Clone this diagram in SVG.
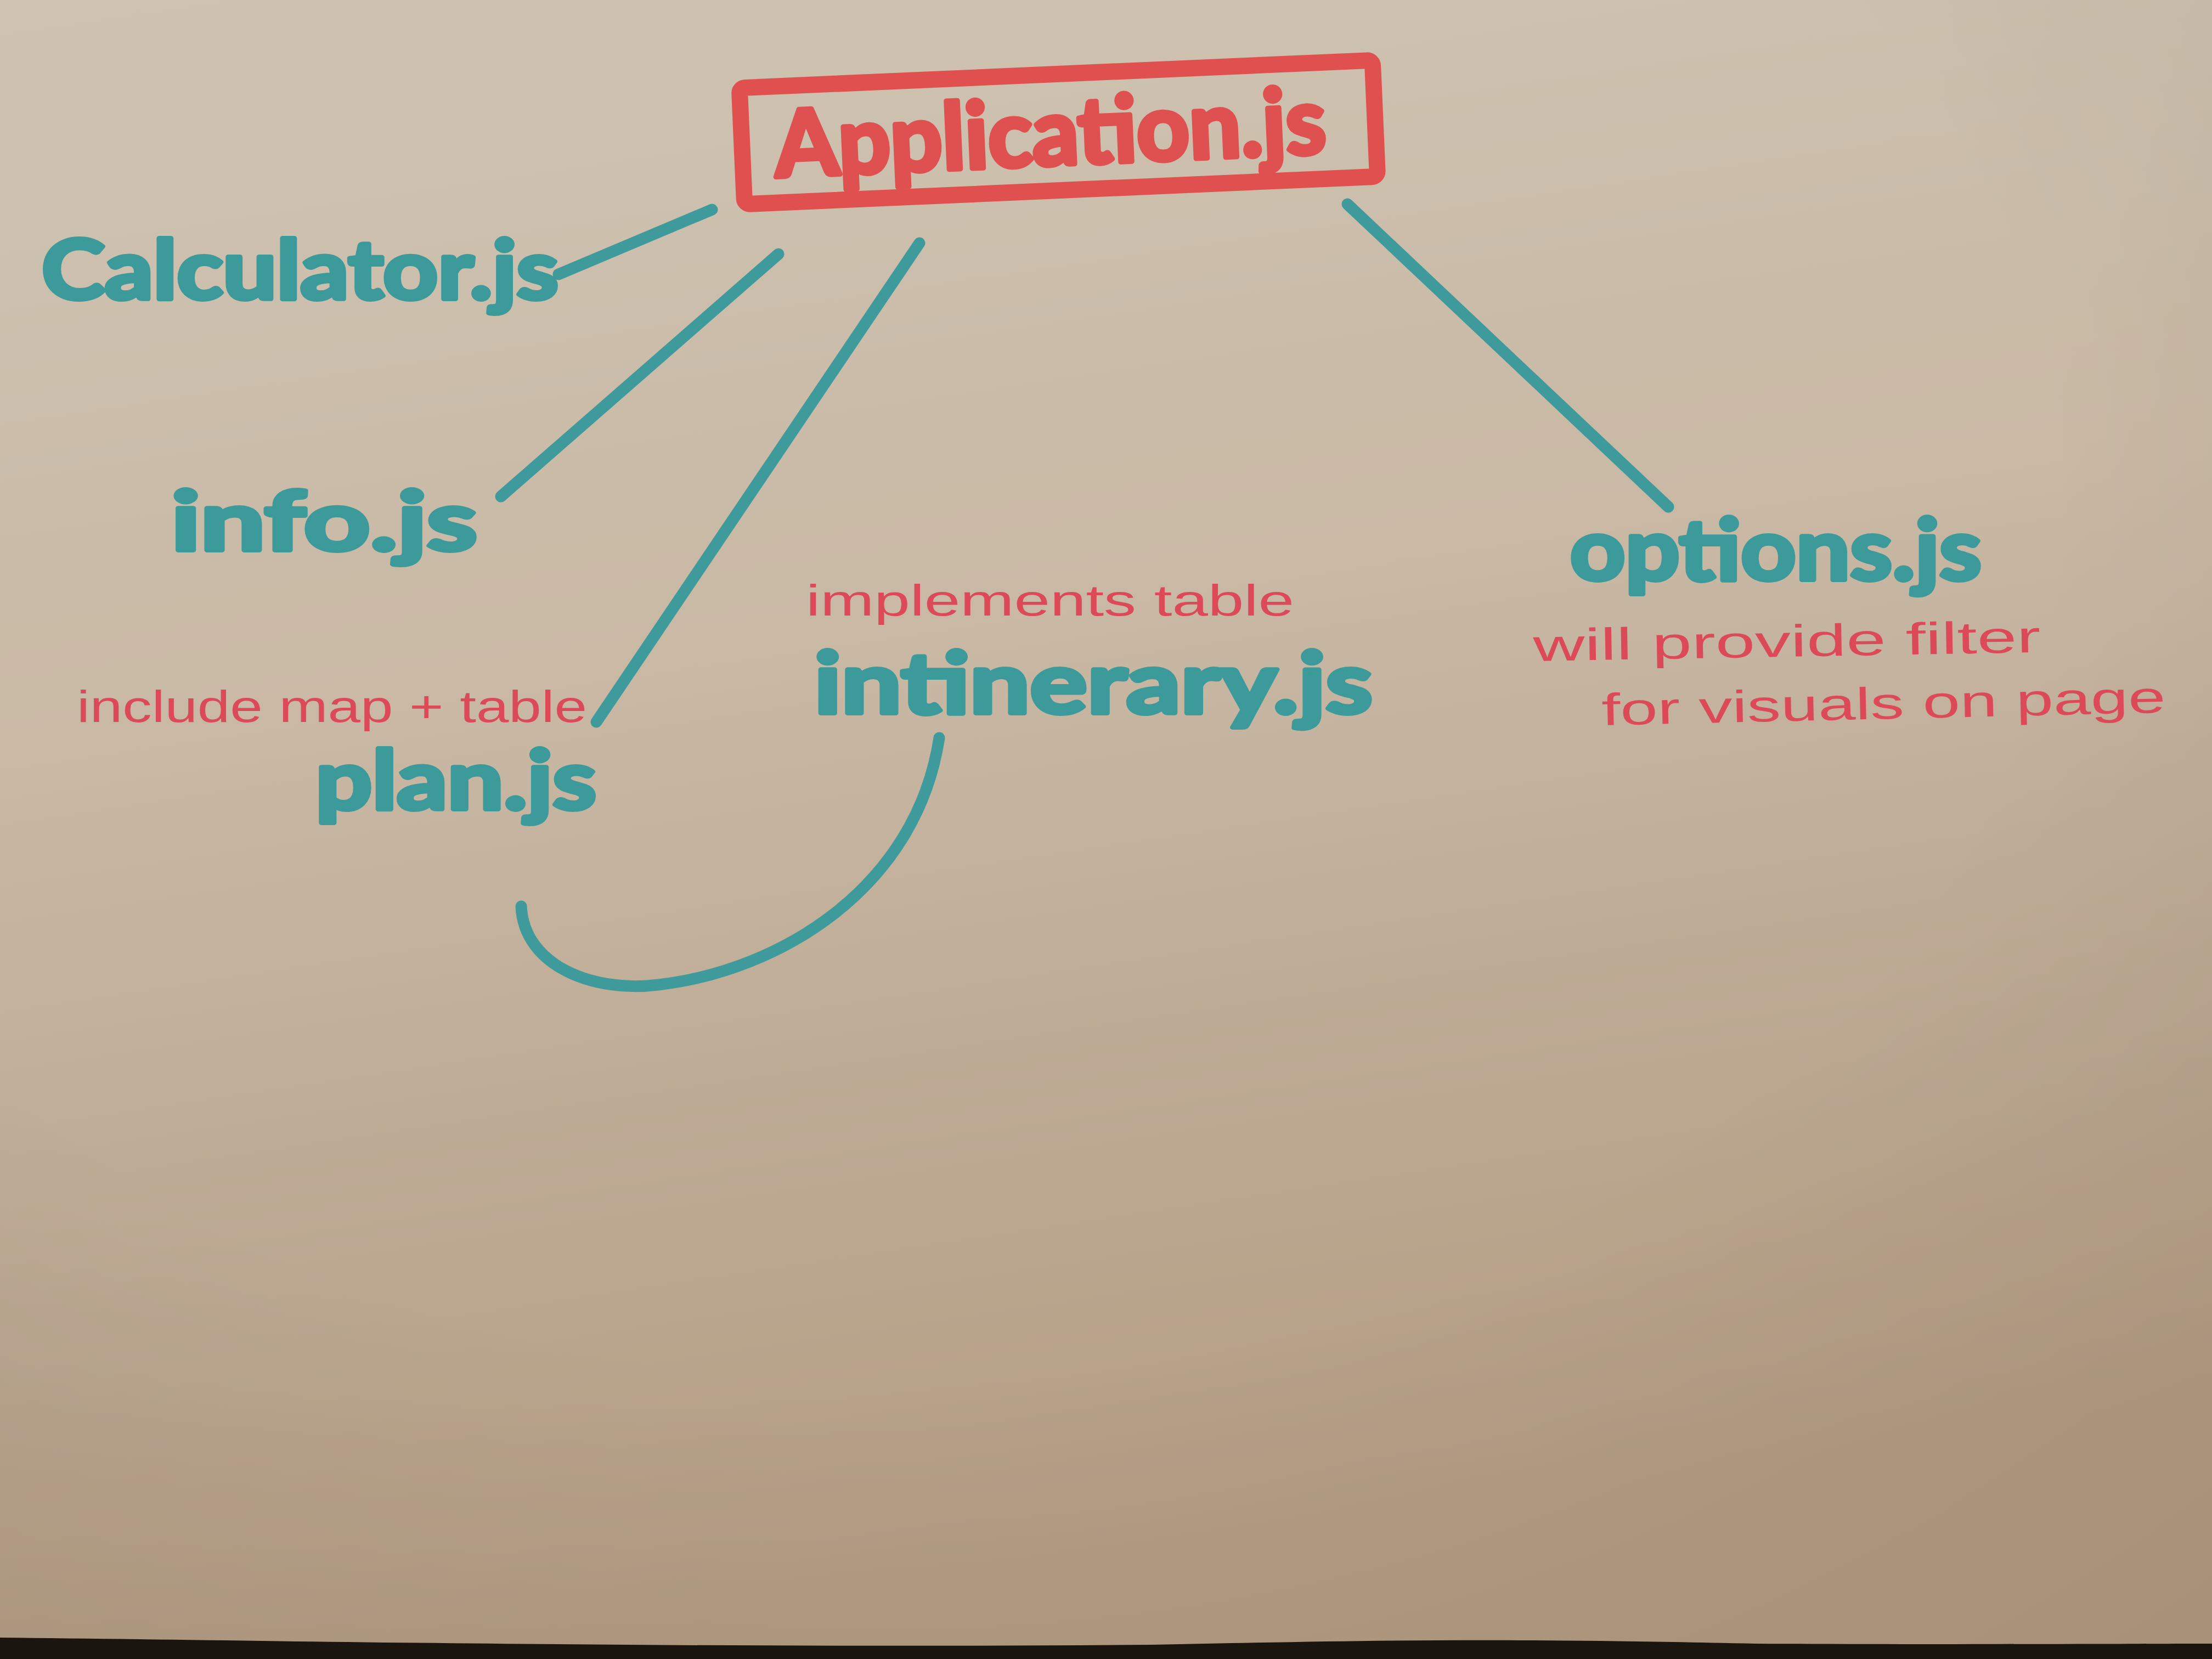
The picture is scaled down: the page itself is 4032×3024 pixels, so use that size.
<svg xmlns="http://www.w3.org/2000/svg" width="4032" height="3024" viewBox="0 0 4032 3024">
  <defs>
    <linearGradient id="paper" x1="0" y1="0" x2="0.2" y2="1">
      <stop offset="0" stop-color="#cfc4b3"/>
      <stop offset="0.45" stop-color="#c8b8a4"/>
      <stop offset="1" stop-color="#b39c83"/>
    </linearGradient>
    <radialGradient id="vig" cx="0.4" cy="0.3" r="0.95">
      <stop offset="0.55" stop-color="#000" stop-opacity="0"/>
      <stop offset="1" stop-color="#3a2510" stop-opacity="0.1"/>
    </radialGradient>
    <style>
      .teal { font-family: "Lato", "Open Sans", "Liberation Sans", sans-serif; font-weight: 700; fill: #3d9a9b; stroke: #3d9a9b; stroke-width: 8; stroke-linejoin: round; }
      .red { font-family: "Liberation Sans", "DejaVu Sans", sans-serif; font-weight: 400; fill: #dc4a5a; }
      .appname { font-family: "Lato", "Open Sans", "Liberation Sans", sans-serif; font-weight: 700; fill: #df5150; stroke: #df5150; stroke-width: 9; stroke-linejoin: round; }
      .conn { fill: none; stroke: #3e9a9b; stroke-width: 21; stroke-linecap: round; stroke-linejoin: round; }
    </style>
  </defs>

  <rect x="0" y="0" width="4032" height="3024" fill="url(#paper)"/>
  <rect x="0" y="0" width="4032" height="3024" fill="url(#vig)"/>
  <path d="M0 2985 C 500 2990, 1200 3005, 2100 2998 C 2500 2990, 2700 2985, 3200 2996 C 3600 2998, 3900 2996, 4032 2996 L 4032 3024 L 0 3024 Z" fill="#1b1510"/>

  <g id="connectors">
    <line class="conn" x1="1018" y1="500" x2="1298" y2="382"/>
    <line class="conn" x1="913" y1="905" x2="1419" y2="463"/>
    <line class="conn" x1="1087" y1="1316" x2="1676" y2="443"/>
    <line class="conn" x1="2456" y1="372" x2="3041" y2="924"/>
    <path class="conn" d="M 950 1652 C 955 1760, 1080 1810, 1200 1795 C 1420 1770, 1670 1620, 1712 1345"/>
  </g>

  <g id="node-application">
    <g transform="rotate(-2.5 1930 243)">
      <rect x="1352" y="135" width="1155" height="212" rx="10" fill="none" stroke="#e0504f" stroke-width="30"/>
      <text class="appname" x="1412" y="300" font-size="168" textLength="1005" lengthAdjust="spacingAndGlyphs">Application.js</text>
    </g>
  </g>

  <g id="node-calculator">
    <text class="teal" x="76" y="545" font-size="150" textLength="942" lengthAdjust="spacingAndGlyphs">Calculator.js</text>
  </g>

  <g id="node-info">
    <text class="teal" x="312" y="1003" font-size="150" textLength="558" lengthAdjust="spacingAndGlyphs">info.js</text>
  </g>

  <g id="node-plan">
    <text class="red" x="140" y="1316" font-size="82" textLength="930" lengthAdjust="spacingAndGlyphs">include map + table</text>
    <text class="teal" x="575" y="1475" font-size="150" textLength="512" lengthAdjust="spacingAndGlyphs">plan.js</text>
  </g>

  <g id="node-itinerary">
    <text class="red" x="1469" y="1122" font-size="80" textLength="890" lengthAdjust="spacingAndGlyphs">implements table</text>
    <text class="teal" x="1484" y="1300" font-size="155" textLength="1018" lengthAdjust="spacingAndGlyphs">intinerary.js</text>
  </g>

  <g id="node-options">
    <text class="teal" x="2862" y="1057" font-size="155" textLength="750" lengthAdjust="spacingAndGlyphs">options.js</text>
    <text class="red" x="2795" y="1205" font-size="82" textLength="925" lengthAdjust="spacingAndGlyphs" transform="rotate(-1 2795 1205)">will provide filter</text>
    <text class="red" x="2920" y="1322" font-size="82" textLength="1028" lengthAdjust="spacingAndGlyphs" transform="rotate(-1.3 2920 1322)">for visuals on page</text>
  </g>
</svg>
